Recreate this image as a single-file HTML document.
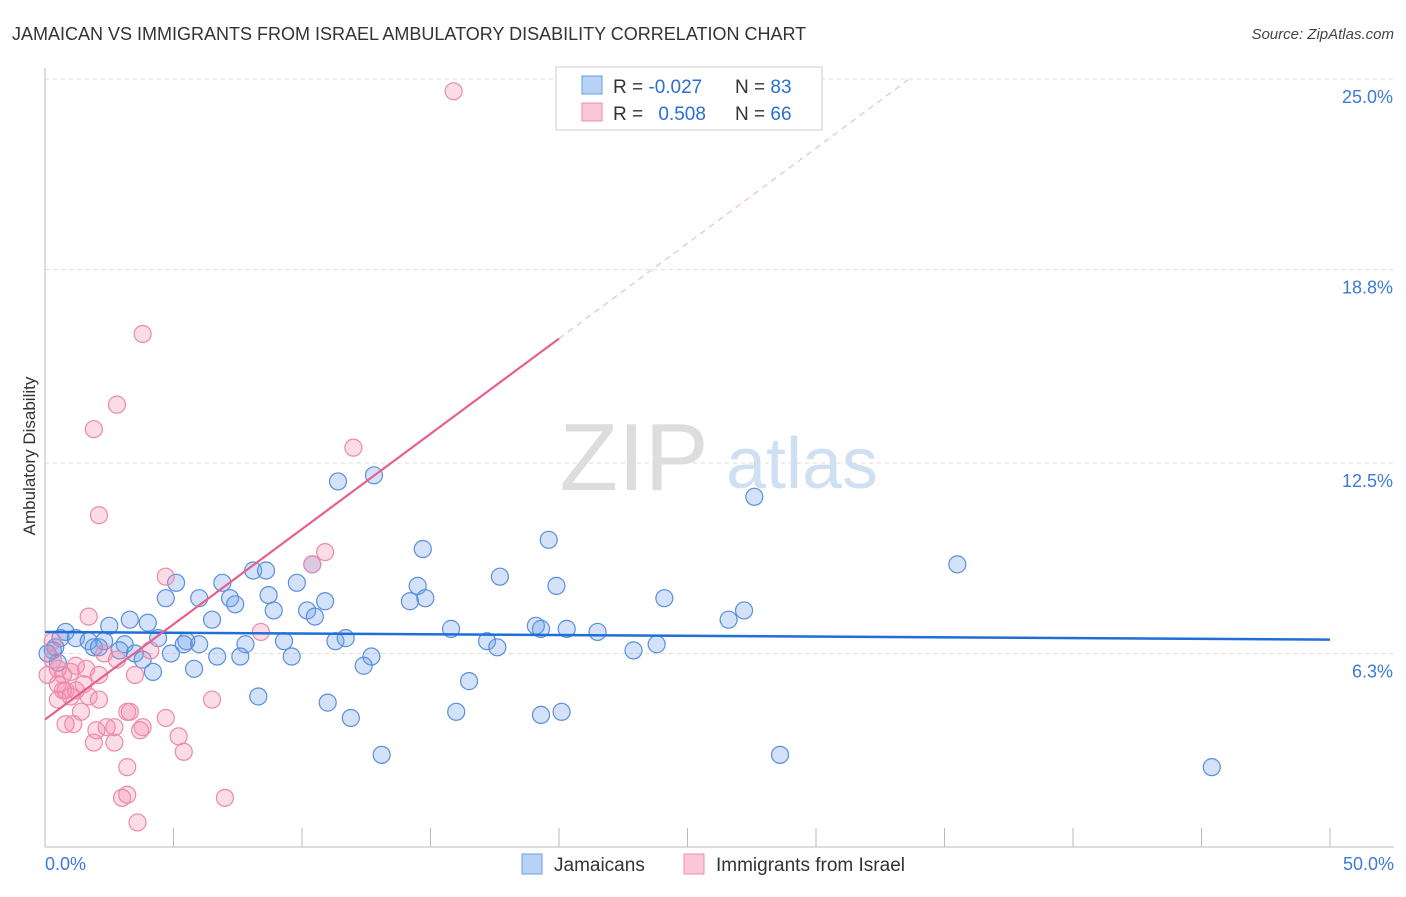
<!DOCTYPE html>
<html><head><meta charset="utf-8"><style>
body{margin:0;background:#fff;font-family:"Liberation Sans",sans-serif;}
svg text{font-family:"Liberation Sans",sans-serif;}
</style></head><body>
<svg id="chart" width="1406" height="892" xmlns="http://www.w3.org/2000/svg">
<text x="12" y="40" font-size="18" fill="#333">JAMAICAN VS IMMIGRANTS FROM ISRAEL AMBULATORY DISABILITY CORRELATION CHART</text>
<text x="1394" y="39" font-size="15" fill="#444" font-style="italic" text-anchor="end">Source: ZipAtlas.com</text>
<text x="35" y="456" font-size="17" fill="#333" text-anchor="middle" transform="rotate(-90 35 456)">Ambulatory Disability</text>
<g><text x="634" y="490" font-size="96" fill="#ddd" font-family="Liberation Serif,serif" text-anchor="middle">ZIP</text><text x="802" y="488" font-size="72" fill="#cfe0f3" text-anchor="middle">atlas</text></g>
<g id="grid"></g><g id="marks"></g>
<g>
<rect x="556" y="67" width="266" height="63" fill="#fff" stroke="#ccc"/>
<rect x="582" y="76" width="20" height="18" fill="#b8d2f5" stroke="#6a9ee0"/>
<rect x="582" y="103" width="20" height="18" fill="#f9c8d6" stroke="#ec8fae"/>
<text x="613" y="93" font-size="19" fill="#333">R = <tspan fill="#2a6fd6">-0.027</tspan></text><text x="735" y="93" font-size="19" fill="#333">N = <tspan fill="#2a6fd6">83</tspan></text>
<text x="613" y="120" font-size="19" fill="#333">R = <tspan fill="#2a6fd6" dx="10">0.508</tspan></text><text x="735" y="120" font-size="19" fill="#333">N = <tspan fill="#2a6fd6">66</tspan></text>
</g>
<g>
<rect x="522" y="854" width="20" height="20" fill="#b8d2f5" stroke="#6a9ee0"/><text x="554" y="871" font-size="19" fill="#333">Jamaicans</text>
<rect x="684" y="854" width="20" height="20" fill="#f9c8d6" stroke="#ec8fae"/><text x="716" y="871" font-size="19" fill="#333">Immigrants from Israel</text>
</g>
</svg>
<script>
const yTicks=[25.0,18.8,12.5,6.3];
const yTickLabels=["25.0%","18.8%","12.5%","6.3%"];
const xTickLabels=["0.0%","50.0%"];
const blueX=[11.4,12.8,27.6,19.6,14.7,35.5,8.1,8.6,5.1,6.9,9.8,17.7,19.9,14.5,10.4,4.7,6.0,7.2,7.4,8.7,10.9,14.2,14.8,24.1,27.2,26.6,8.9,10.2,10.5,3.3,4.0,2.5,6.5,15.8,19.1,19.3,20.3,21.5,0.8,0.6,1.2,1.7,2.3,3.1,4.4,5.5,5.4,6.0,7.8,9.3,11.3,11.7,17.2,17.6,22.9,23.8,0.4,0.3,1.9,2.1,2.9,3.5,3.8,4.9,6.7,7.6,9.6,12.7,12.4,5.8,4.2,0.5,16.5,8.3,11.0,11.9,16.0,19.3,20.1,13.1,28.6,45.4,0.1];
const blueY=[11.9,12.1,11.4,10.0,9.7,9.2,9.0,9.0,8.6,8.6,8.6,8.8,8.5,8.5,9.2,8.1,8.1,8.1,7.9,8.2,8.0,8.0,8.1,8.1,7.7,7.4,7.7,7.7,7.5,7.4,7.3,7.2,7.4,7.1,7.2,7.1,7.1,7.0,7.0,6.8,6.8,6.7,6.7,6.6,6.8,6.7,6.6,6.6,6.6,6.7,6.7,6.8,6.7,6.5,6.4,6.6,6.5,6.4,6.5,6.5,6.4,6.3,6.1,6.3,6.2,6.2,6.2,6.2,5.9,5.8,5.7,6.0,5.4,4.9,4.7,4.2,4.4,4.3,4.4,3.0,3.0,2.6,6.3];
const pinkX=[15.9,3.8,2.8,1.9,12.0,2.1,10.9,10.4,4.7,1.7,8.4,4.1,2.3,2.8,0.3,0.3,0.5,0.1,0.7,1.0,1.6,2.1,3.5,0.5,0.8,1.2,1.5,0.5,1.0,1.7,2.1,6.5,1.4,3.2,3.3,4.7,0.8,1.1,2.0,2.4,2.7,3.8,3.7,5.2,1.9,2.7,5.4,3.2,3.2,3.0,7.0,3.6,0.7,1.2];
const pinkY=[24.6,16.7,14.4,13.6,13.0,10.8,9.6,9.2,8.8,7.5,7.0,6.4,6.3,6.1,6.7,6.1,5.8,5.6,5.6,5.7,5.8,5.6,5.6,5.3,5.1,5.1,5.3,4.8,4.9,4.9,4.8,4.8,4.4,4.4,4.4,4.2,4.0,4.0,3.8,3.9,3.9,3.9,3.8,3.6,3.4,3.4,3.1,2.6,1.7,1.6,1.6,0.8,5.1,5.9];
const blueFit=[7.0,-0.005];
const pinkFit=[4.15,0.62];
const X0=45,X1=1330,Y0=847,YTOP=79;
const sx=v=>X0+(v/50)*(X1-X0);
const sy=v=>Y0-(v/25)*(Y0-YTOP);
const NS="http://www.w3.org/2000/svg";
function mk(t,a,p){const e=document.createElementNS(NS,t);for(const k in a)e.setAttribute(k,a[k]);p.appendChild(e);return e;}
const g=document.getElementById('grid'),m=document.getElementById('marks');
yTicks.forEach((v,i)=>{
 const l=mk('line',{x1:X0,x2:1394,y1:sy(v),y2:sy(v),stroke:'#ddd','stroke-dasharray':'4,4'},g);
 
 
 const t=mk('text',{x:1393,y:sy(v)+24,'font-size':18,fill:'#3d7ad6','text-anchor':'end'},g);t.textContent=yTickLabels[i];
 
 
});
const ax=mk('line',{x1:X0,x2:X0,y1:68,y2:Y0,stroke:'#bbb'},g);


const bx=mk('line',{x1:X0,x2:1394,y1:Y0,y2:Y0,stroke:'#bbb'},g);


for(let i=1;i<=10;i++){const tk=mk('line',{x1:sx(i*5),x2:sx(i*5),y1:828,y2:Y0,stroke:'#bbb'},g);
 
 }
[[0,'start',45],[50,'end',1394]].forEach((d,i)=>{const t=mk('text',{x:d[2],y:870,'font-size':18,fill:'#3d7ad6','text-anchor':d[1]},g);t.textContent=xTickLabels[i];
 
 });
blueX.forEach((x,i)=>{const c=mk('circle',{cx:sx(x),cy:sy(blueY[i]),r:8.5,fill:'rgba(110,160,235,0.3)',stroke:'#5a8fdc','stroke-width':1.2},m);
 
 });
pinkX.forEach((x,i)=>{const c=mk('circle',{cx:sx(x),cy:sy(pinkY[i]),r:8.5,fill:'rgba(245,140,170,0.3)',stroke:'#ec8aaa','stroke-width':1.2},m);
 
 });
const bl=mk('line',{x1:sx(0),y1:sy(blueFit[0]),x2:sx(50),y2:sy(blueFit[0]+50*blueFit[1]),stroke:'#1f6fd6','stroke-width':2.5},m);


const xs=20,xe=(25-pinkFit[0])/pinkFit[1];
const pl=mk('line',{x1:sx(0),y1:sy(pinkFit[0]),x2:sx(xs),y2:sy(pinkFit[0]+xs*pinkFit[1]),stroke:'#e8608c','stroke-width':2.2},m);


const pd=mk('line',{x1:sx(xs),y1:sy(pinkFit[0]+xs*pinkFit[1]),x2:sx(xe),y2:sy(25),stroke:'#eeb0c4','stroke-width':1,'stroke-dasharray':'6,5'},m);


</script>
</body></html>
